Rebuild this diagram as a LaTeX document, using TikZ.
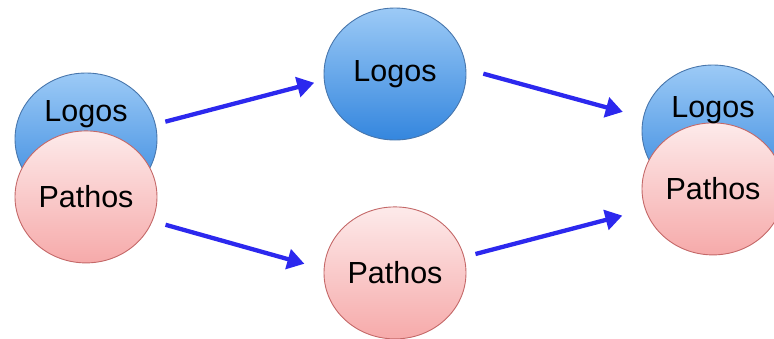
\documentclass[tikz,border=0pt]{standalone}
\usepackage{fontspec}
\setmainfont{Liberation Sans}
\usepackage{tikz}
\usetikzlibrary{shapes.geometric, positioning, arrows.meta}
\usepackage{xcolor}
\definecolor{logostop}{RGB}{156,202,246}
\definecolor{logosbot}{RGB}{52,134,222}
\definecolor{logosline}{RGB}{72,118,172}
\definecolor{pathostop}{RGB}{253,234,234}
\definecolor{pathosbot}{RGB}{246,170,170}
\definecolor{pathosline}{RGB}{196,104,104}
\definecolor{flowblue}{RGB}{44,40,238}

\begin{document}
\begin{tikzpicture}[x=1pt,y=1pt,font=\fontsize{30.5}{36}\selectfont,
    blob/.style={ellipse,minimum width=142pt,minimum height=132pt,inner sep=0pt,line width=0.9pt},
    logos/.style={blob,draw=logosline,top color=logostop,bottom color=logosbot},
    pathos/.style={blob,draw=pathosline,top color=pathostop,bottom color=pathosbot},
    word/.style={inner sep=0pt},
    flow/.style={draw=flowblue,line width=4.3pt,-{Triangle[length=17pt,width=20pt]}}]
    \useasboundingbox (0,0) rectangle (774,-338);
    % left pair
    \node[logos] (lb) at (86,-139) {};
    \node[pathos] (lp) [below=-75pt of lb] {Pathos};
    % middle
    \node[logos] (ml) at (395,-74) {Logos};
    \node[pathos] (mp) [below=66pt of ml] {Pathos};
    % right pair
    \node[logos] (rb) at (713,-131) {};
    \node[pathos] (rp) [below=-75pt of rb] {Pathos};
    \node[word] (lbt) at ([yshift=25pt]lb.center) {Logos};
    \node[word] (rbt) at ([yshift=20.5pt]rb.center) {Logos};
    \path (lb.12) edge[flow, shorten <=10pt, shorten >=10pt] (ml.185);
    \path (lp.340) edge[flow, shorten <=13.5pt, shorten >=20pt] (mp.177);
    \path (ml.4) edge[flow, shorten <=17.7pt, shorten >=21pt] (rb.169);
    \path (mp.13) edge[flow, shorten <=11.5pt, shorten >=23.5pt] (rp.197.5);
\end{tikzpicture}
\end{document}
